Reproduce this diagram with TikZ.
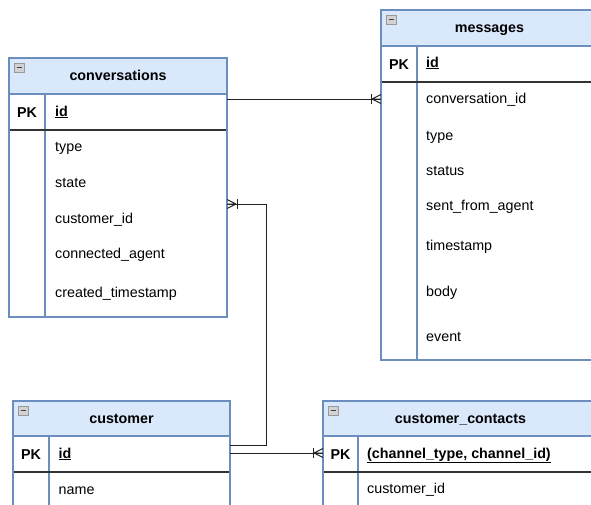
\documentclass[tikz,border=0pt]{standalone}
\usepackage{fontspec}
\setmainfont{Liberation Sans}
\definecolor{hdrfill}{HTML}{DAE8FC}
\definecolor{hdrline}{HTML}{6C8EBF}
\definecolor{keyrule}{HTML}{333333}
\definecolor{linkcol}{HTML}{222222}

\tikzset{
  tablebox/.style={rectangle, fill=white, inner sep=0pt, outer sep=0pt},
  frame/.style={draw=hdrline, line width=1.1pt},
  keysep/.style={draw=keyrule, line width=1.1pt},
  fieldtxt/.style={anchor=west, inner sep=0pt, font=\fontsize{14.3}{16}\selectfont, text height=8pt, text depth=0pt},
  pktxt/.style={inner sep=0pt, font=\bfseries\fontsize{14.3}{16}\selectfont, text height=10.2pt, text depth=0pt},
  titletxt/.style={inner sep=0pt, font=\bfseries\fontsize{14.3}{16}\selectfont, text height=9pt, text depth=0pt},
  iconbox/.style={fill=gray!35, draw=gray!80, line width=0.6pt},
  icondash/.style={draw=black!75, line width=1.3pt},
  link/.style={draw=linkcol, line width=1pt},
  crow/.pic={
    \draw[link] (-9,0) -- (0,-4.5) (-9,0) -- (0,0) (-9,0) -- (0,4.5);
    \draw[link] (-10,-5) -- (-10,5);
  }
}

% #1 name, #2 left, #3 top, #4 right, #5 header bottom,
% #6 key row bottom, #7 bottom, #8 divider x, #9 title
\newcommand\ertable[9]{%
  \node[tablebox, minimum width={(#4-#2)*1pt}, minimum height={(#7-#3)*1pt},
        anchor=north west] (#1) at (#2,#3) {};
  \path[frame, fill=hdrfill] (#2,#3) rectangle (#4,#5);
  \path[frame] (#8,#5) -- (#8,#7);
  \path[keysep] (#2,#6) -- (#4,#6);
  \path[frame] (#1.north west) rectangle (#1.south east);
  \node[titletxt] (#1-title) at ({(#2+#4)/2},{(#3+#5)/2}) {#9};
  \node[pktxt] (#1-pk) at ({(#2+#8)/2},{(#5+#6)/2}) {PK};
  \path[iconbox] ({#2+5},{#3+5}) rectangle ({#2+15},{#3+14});
  \path[icondash] ({#2+7.5},{#3+9.5}) -- ({#2+12.5},{#3+9.5});
}

\begin{document}
\begin{tikzpicture}[x=1pt, y=-1pt]
\useasboundingbox (0,0) rectangle (591,504);
\clip (0,0) rectangle (591,504);
\fill[white] (0,0) rectangle (591,504);

% tables
\ertable{cv}{9}{58}{227}{94}{130}{317}{45}{conversations}
\ertable{msg}{381}{10}{598}{46}{82}{360}{417}{messages}
\ertable{cu}{13}{401}{230}{436}{472}{530}{49}{customer}
\ertable{cc}{323}{401}{598}{436}{472}{530}{358}{customer\_contacts}

% conversations fields
\node[fieldtxt] (cv-id)    at (55,112) {\textbf{\underline{id}}};
\node[fieldtxt] (cv-type)  at (55,147) {type};
\node[fieldtxt] (cv-state) at (55,183) {state};
\node[fieldtxt] (cv-cust)  at (55,219) {customer\_id};
\node[fieldtxt] (cv-agent) at (55,254) {connected\_agent};
\node[fieldtxt] (cv-ts)    at (55,293) {created\_timestamp};

% messages fields
\node[fieldtxt] (m-id)     at (426,63)  {\textbf{\underline{id}}};
\node[fieldtxt] (m-convid) at (426,99)  {conversation\_id};
\node[fieldtxt] (m-type)   at (426,136) {type};
\node[fieldtxt] (m-status) at (426,171) {status};
\node[fieldtxt] (m-sent)   at (426,206) {sent\_from\_agent};
\node[fieldtxt] (m-ts)     at (426,246) {timestamp};
\node[fieldtxt] (m-body)   at (426,292) {body};
\node[fieldtxt] (m-event)  at (426,337) {event};

% customer fields
\node[fieldtxt] (cu-id)   at (58.5,454) {\textbf{\underline{id}}};
\node[fieldtxt] (cu-name) at (58.5,490) {name};

% customer_contacts fields
\node[fieldtxt] (cc-key)  at (367,454) {\textbf{\underline{(channel\_type, channel\_id)}}};
\node[fieldtxt] (cc-cust) at (367,489) {customer\_id};

% conversations -> messages
\draw[link] (m-convid.west -| cv.east) -- (m-convid.west -| msg.west);
\pic at (m-convid.west -| msg.west) {crow};

% customer -> conversations
\draw[link] (cu.east |- 0,445) -| (266,204) -- (cv.east |- 0,204);
\pic[rotate=180] at (cv.east |- 0,204) {crow};

% customer -> customer_contacts
\draw[link] (cu.east |- 0,453) -- (cc.west |- 0,453);
\pic at (cc.west |- 0,453) {crow};
\end{tikzpicture}
\end{document}
